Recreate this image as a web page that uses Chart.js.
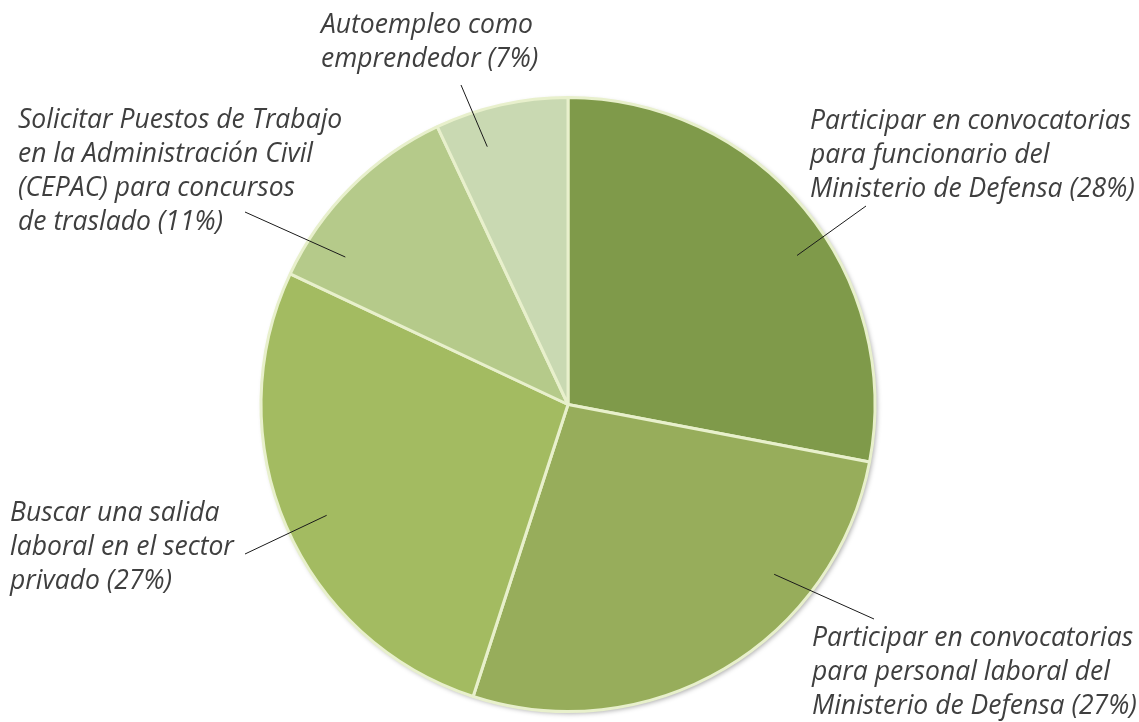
<!DOCTYPE html>
<html>
<head>
<meta charset="utf-8">
<script src="https://cdn.jsdelivr.net/npm/chart.js@4/dist/chart.umd.min.js"></script>
<style>
  html, body { margin: 0; padding: 0; background: #ffffff; }
  #wrap { width: 1139px; height: 722px; position: relative; }
</style>
</head>
<body>
<div id="wrap"><canvas id="pieChart"></canvas></div>
<script>
// data
const categories = [
    'Participar en convocatorias para funcionario del Ministerio de Defensa',
    'Participar en convocatorias para personal laboral del Ministerio de Defensa',
    'Buscar una salida laboral en el sector privado',
    'Solicitar Puestos de Trabajo en la Administración Civil (CEPAC) para concursos de traslado',
    'Autoempleo como emprendedor',
];
const percentages = [28, 27, 27, 11, 7];
const labelLines = [
    ['Participar en convocatorias', 'para funcionario del', 'Ministerio de Defensa (28%)'],
    ['Participar en convocatorias', 'para personal laboral del', 'Ministerio de Defensa (27%)'],
    ['Buscar una salida', 'laboral en el sector', 'privado (27%)'],
    ['Solicitar Puestos de Trabajo', 'en la Administración Civil', '(CEPAC) para concursos', 'de traslado (11%)'],
    ['Autoempleo como', 'emprendedor (7%)'],
];
const sliceColors = ['#7f9a4a', '#97ad5b', '#a3bb61', '#b5ca8a', '#c9d9b2'];

// label layout: text position, leader end, and where the leader touches the slice
const labelLayout = [
    { x: 810, y: 121, lineEnd: [866, 206], frac: 0.565, rFrac: 0.89 },
    { x: 812, y: 638, lineEnd: [874, 619], frac: 0.295, rFrac: 0.87 },
    { x: 10,  y: 513, lineEnd: [245, 554], frac: 0.487, rFrac: 0.865 },
    { x: 18,  y: 120, lineEnd: [245, 212], frac: 0.21,  rFrac: 0.87 },
    { x: 321, y: 25,  lineEnd: [461, 85],  frac: 0.31,  rFrac: 0.88 },
];
const lineHeight = 34.3;

const pieShadow = {
    id: 'pieShadow',
    beforeDatasetsDraw(chart) {
        const arc = chart.getDatasetMeta(0).data[0];
        if (!arc) return;
        const ctx = chart.ctx;
        ctx.save();
        ctx.shadowColor = 'rgba(0,0,0,0.35)';
        ctx.shadowBlur = 5;
        ctx.shadowOffsetX = 2;
        ctx.shadowOffsetY = 2;
        ctx.fillStyle = '#ffffff';
        ctx.beginPath();
        ctx.arc(arc.x, arc.y, arc.outerRadius, 0, Math.PI * 2);
        ctx.fill();
        ctx.restore();
    },
};

const calloutLabels = {
    id: 'calloutLabels',
    afterDatasetsDraw(chart) {
        const ctx = chart.ctx;
        const arcs = chart.getDatasetMeta(0).data;
        ctx.save();
        arcs.forEach((arc, i) => {
            const lay = labelLayout[i];
            const a = arc.startAngle + (arc.endAngle - arc.startAngle) * lay.frac;
            const r = arc.outerRadius * lay.rFrac;
            // leader line
            ctx.strokeStyle = '#1a1a1a';
            ctx.lineWidth = 1;
            ctx.beginPath();
            ctx.moveTo(arc.x + Math.cos(a) * r, arc.y + Math.sin(a) * r);
            ctx.lineTo(lay.lineEnd[0], lay.lineEnd[1]);
            ctx.stroke();
            // text
            ctx.fillStyle = '#3f3f3f';
            ctx.font = 'italic 26.5px "Open Sans"';
            ctx.textAlign = 'left';
            ctx.textBaseline = 'middle';
            labelLines[i].forEach((line, k) => {
                ctx.fillText(line, lay.x, lay.y + k * lineHeight);
            });
        });
        ctx.restore();
    },
};

const pieCtx = document.getElementById('pieChart').getContext('2d');
const pieChart = new Chart(pieCtx, {
    type: 'pie',
    data: {
        labels: categories,
        datasets: [
            {
                data: percentages,
                backgroundColor: sliceColors,
                borderColor: '#e8f0cc', // pale cream separators
                borderWidth: 3,
            },
        ],
    },
    options: {
        responsive: true,
        maintainAspectRatio: false,
        animation: false,
        layout: {
            padding: { top: 96, bottom: 9, left: 0, right: 3 },
        },
        plugins: {
            legend: { display: false },
            tooltip: { enabled: false },
        },
    },
    plugins: [pieShadow, calloutLabels],
});
</script>
</body>
</html>
